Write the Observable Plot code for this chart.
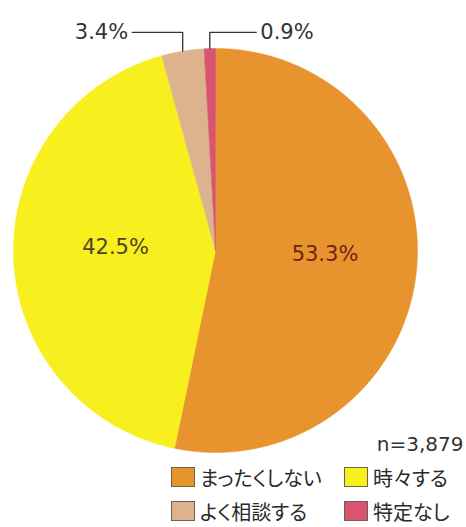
<!DOCTYPE html>
<html><head><meta charset="utf-8">
<script src="https://cdn.jsdelivr.net/npm/d3@7"></script>
<script src="https://cdn.jsdelivr.net/npm/@observablehq/plot@0.6"></script>
<style>
body{margin:0;background:#fff;width:466px;height:527px;overflow:hidden;font-family:"DejaVu Sans",sans-serif;}
#chart svg{display:block;}
#legend{position:relative;height:65px;}
.item{position:absolute;display:flex;align-items:center;height:24px;font-family:"Noto Sans CJK JP",sans-serif;font-size:20px;font-feature-settings:"palt";color:#2a2a2a;white-space:nowrap;}
.sw{width:24px;height:20px;border:1px solid #6e6250;margin-right:5px;box-sizing:border-box;}
</style></head><body><div id="chart"></div><div id="legend"></div>
<script>
const categories = ["まったくしない", "時々する", "よく相談する", "特定なし"];
const values = [53.3, 42.5, 3.4, 0.9];
const valueLabels = ["53.3%", "42.5%", "3.4%", "0.9%"];
const colors = ["#E8942E", "#F7EF1E", "#DDB38E", "#D9546E"];
const sampleLabel = "n=3,879";

const data = categories.map((c, i) => ({cat: c, value: values[i], label: valueLabels[i]}));
const arcs = d3.pie().sort(null).value(d => d.value)(data);

// slice polygons in unit-circle coordinates (angle clockwise from 12 o'clock)
const pts = [];
arcs.forEach(a => {
  const c = a.data.cat;
  pts.push({cat: c, x: 0, y: 0});
  const n = Math.max(4, Math.ceil((a.endAngle - a.startAngle) / 0.005));
  for (let k = 0; k <= n; k++) {
    const t = a.startAngle + (a.endAngle - a.startAngle) * k / n;
    pts.push({cat: c, x: Math.sin(t), y: Math.cos(t)});
  }
  pts.push({cat: c, x: 0, y: 0});
});

const mid = a => (a.startAngle + a.endAngle) / 2;
const inner = arcs.filter(a => a.data.value > 10).map(a => ({
  label: a.data.label, cat: a.data.cat,
  x: 0.52 * Math.sin(mid(a)), y: 0.52 * Math.cos(mid(a))
}));
const innerColor = {"まったくしない": "#6e2412", "時々する": "#4e4420"};

const small = arcs.filter(a => a.data.value <= 10);
const lineY = 1.08;
const leaders = [];
const outerTexts = [];
small.forEach((a, i) => {
  const mx = Math.sin(mid(a)), my = Math.cos(mid(a));
  const dir = i === 0 ? -1 : 1;
  const len = i === 0 ? 0.25 : 0.23;
  leaders.push({id: i, x: mx, y: my}, {id: i, x: mx, y: lineY}, {id: i, x: mx + dir * len, y: lineY});
  outerTexts.push({label: a.data.label, x: mx + dir * (len + 0.02), y: lineY, anchor: dir < 0 ? "end" : "start"});
});

const chart = Plot.plot({
  width: 466, height: 462,
  margin: 0,
  x: {domain: [-1, 1], range: [13, 417], axis: null},
  y: {domain: [-1, 1], range: [452, 48], axis: null},
  color: {domain: categories, range: colors},
  marks: [
    Plot.line(pts, {x: "x", y: "y", z: "cat", fill: "cat", stroke: "cat", strokeWidth: 0.5, curve: "linear"}),
    Plot.text(inner.filter(d => d.cat === categories[0]), {x: "x", y: "y", text: "label", dx: 5, dy: -7, fill: innerColor[categories[0]], fontSize: 21, fontFamily: "DejaVu Sans"}),
    Plot.text(inner.filter(d => d.cat === categories[1]), {x: "x", y: "y", text: "label", dx: 5, dy: -7, fill: innerColor[categories[1]], fontSize: 21, fontFamily: "DejaVu Sans"}),
    Plot.line(leaders, {x: "x", y: "y", z: "id", stroke: "#333", strokeWidth: 1.3}),
    Plot.text(outerTexts.filter(d => d.anchor === "end"), {x: "x", y: "y", text: "label", textAnchor: "end", fill: "#333", fontSize: 21, fontFamily: "DejaVu Sans"}),
    Plot.text(outerTexts.filter(d => d.anchor === "start"), {x: "x", y: "y", text: "label", textAnchor: "start", fill: "#333", fontSize: 21, fontFamily: "DejaVu Sans"}),
    Plot.text([sampleLabel], {frameAnchor: "bottom-right", text: d => d, dx: -3, dy: -12, fill: "#333", fontSize: 20, fontFamily: "DejaVu Sans"})
  ]
});
document.getElementById("chart").appendChild(chart);

const legend = document.getElementById("legend");
const colLeft = [171, 344];
categories.forEach((c, i) => {
  const item = document.createElement("div");
  item.className = "item";
  item.style.left = colLeft[i % 2] + "px";
  item.style.top = (3 + Math.floor(i / 2) * 34) + "px";
  const sw = document.createElement("span");
  sw.className = "sw";
  sw.style.background = colors[i];
  const tx = document.createElement("span");
  tx.textContent = c;
  item.appendChild(sw);
  item.appendChild(tx);
  legend.appendChild(item);
});
</script>
</body></html>
